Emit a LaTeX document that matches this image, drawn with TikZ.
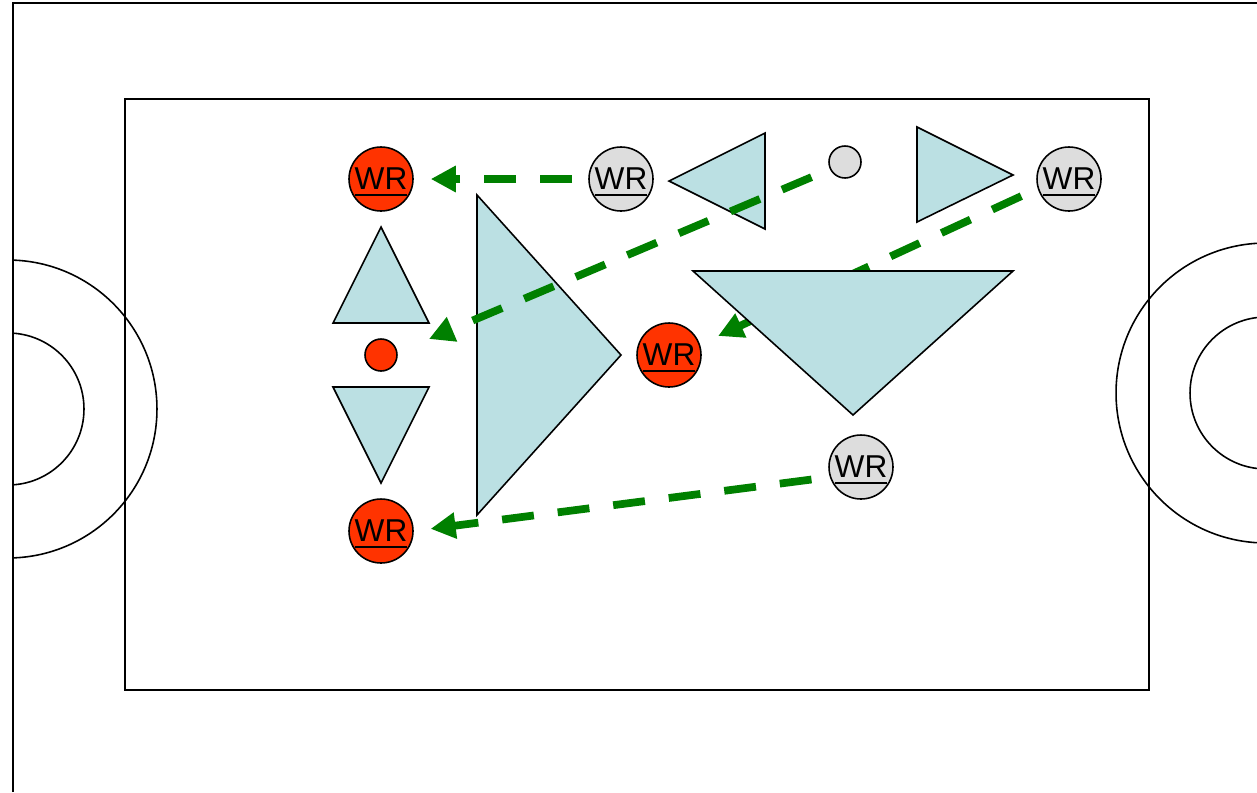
\documentclass[tikz,border=0pt]{standalone}
\usepackage{fontspec}
\setmainfont{Liberation Sans}
\usetikzlibrary{shapes,arrows.meta}

\definecolor{defred}{HTML}{FF3300}
\definecolor{offgray}{HTML}{DDDDDD}
\definecolor{conefill}{HTML}{BBE0E3}
\definecolor{routegreen}{HTML}{008000}

\newcommand{\wrlabel}{\setbox0\hbox{WR}\rlap{\smash{\rule[-0.13cm]{\wd0}{0.055cm}}}WR}

\tikzset{
  player/.style = {circle,
                   draw,
                   line width = 0.9pt,
                   minimum size = 1.28cm,
                   inner sep = 0pt,
                   font = \fontsize{18}{18}\selectfont},
  defense/.style = {player, fill = defred},
  offense/.style = {player, fill = offgray},
  spot/.style = {circle,
                 draw,
                 line width = 0.9pt,
                 minimum size = 0.64cm,
                 inner sep = 0pt},
  cone/.style = {draw, fill = conefill, line width = 0.9pt, line join = miter},
  route/.style = {draw = routegreen,
                  line width = 4.4pt,
                  dash pattern = on 0.64cm off 0.48cm,
                  -{Triangle[length = 0.5cm, width = 0.5cm]}}
}

\begin{document}
\begin{tikzpicture}[x = 0.02cm, y = -0.02cm]

  \useasboundingbox (0,0) rectangle (1257,792);

  % field
  \begin{scope}
    \clip (13,3) rectangle (1257,792);
    \draw[line width = 0.9pt] (8,409) circle[radius = 2.98cm];
    \draw[line width = 0.9pt] (8,409) circle[radius = 1.52cm];
    \draw[line width = 0.9pt] (1266,393) circle[radius = 3cm];
    \draw[line width = 0.9pt] (1266,393) circle[radius = 1.52cm];
  \end{scope}
  \draw[line width = 0.9pt] (13,792) -- (13,3) -- (1257,3);
  \draw[line width = 0.9pt] (125,99) rectangle (1149,690);

  % cones
  \draw[cone] (669,181) -- (765,133) -- (765,229) -- cycle;
  \draw[cone] (917,127) -- (1013,175) -- (917,222) -- cycle;
  \draw[cone] (381,227) -- (429,323) -- (333,323) -- cycle;
  \draw[cone] (333,387) -- (429,387) -- (381,483) -- cycle;
  \draw[cone] (477,195) -- (621,355) -- (477,515) -- cycle;

  % players
  \node[defense] (dTop) at (381,179) {\wrlabel};
  \node[defense] (dMid) at (669,355) {\wrlabel};
  \node[defense] (dBot) at (381,531) {\wrlabel};
  \node[offense] (oLeft) at (621,179) {\wrlabel};
  \node[offense] (oRight) at (1069,179) {\wrlabel};
  \node[offense] (oBot) at (861,467) {\wrlabel};
  \node[spot, fill = offgray] (ball) at (845,162) {};
  \node[spot, fill = defred] (dSpot) at (381,355) {};
  \coordinate (gap) at (429,339);

  % routes
  \draw[route, shorten < = 0.32cm, shorten > = 0.34cm] (oLeft.west) -- (dTop.east);
  \draw[route, shorten < = 0.4cm] (ball.206) -- (gap);
  \draw[route, shorten < = 0.36cm, shorten > = 0.4cm] (oRight.197) -- (dMid.19);
  \draw[route, shorten < = 0.37cm, shorten > = 0.34cm] (oBot.198) -- (dBot.east);

  \draw[cone] (693,271) -- (1013,271) -- (853,415) -- cycle;

\end{tikzpicture}
\end{document}
